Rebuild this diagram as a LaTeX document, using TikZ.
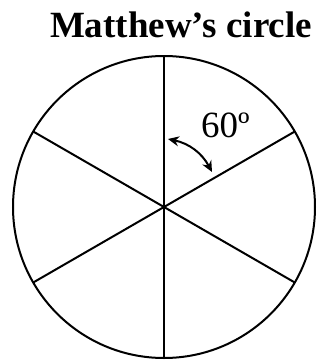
\documentclass[tikz,border=0pt]{standalone}
\usepackage{fontspec}
\setmainfont{Liberation Serif}
\usetikzlibrary{arrows.meta}
\begin{document}
\begin{tikzpicture}[x=1pt,y=1pt,
  ink/.style={line width=2pt,black},
  spoke/.style={line width=2pt,black},
  dbl/.style={line width=2pt,{Stealth[length=11pt,width=10pt]}-{Stealth[length=11pt,width=10pt]}}]
\useasboundingbox (0,0) rectangle (320,-362);
\node[font=\bfseries\fontsize{37}{40}\selectfont,anchor=base] (title) at (181,-37) {Matthew’s circle};
\coordinate (O) at (164,-207);
\node[circle,draw,ink,minimum size=302pt,inner sep=0pt,outer sep=0pt] (circ) at (O) {};
\foreach \a in {30,90,150,210,270,330}{\draw[spoke] (O) -- (circ.\a);}
\node[font=\fontsize{37}{40}\selectfont,anchor=base west,inner sep=0pt] (lab) at (201,-137) {60º};
\coordinate (a1) at (168,-139);
\coordinate (a2) at (212,-172);
\draw[dbl] (a1) to[bend left=25] (a2);
\end{tikzpicture}
\end{document}
